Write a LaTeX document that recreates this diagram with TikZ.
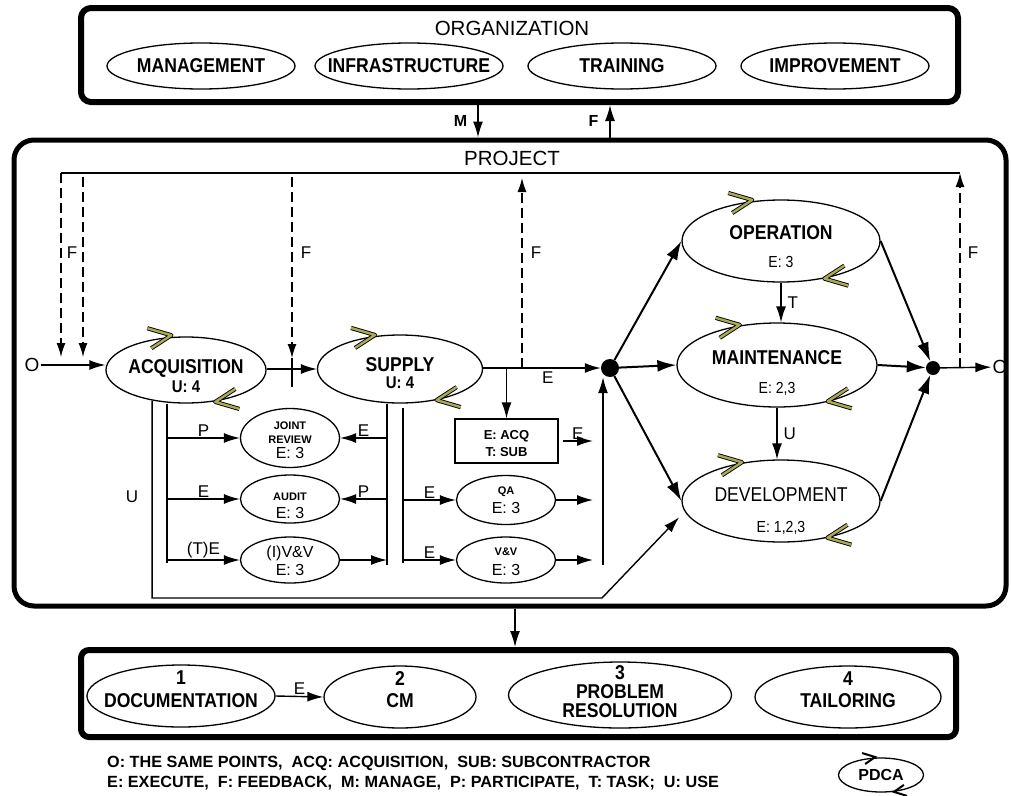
\documentclass[tikz,border=0pt]{standalone}
\usepackage{fontspec}
\setmainfont{Liberation Sans}
\newfontfamily\nrw[FakeStretch=0.88]{Liberation Sans}
\usetikzlibrary{shapes.geometric,arrows.meta}
\definecolor{cycfill}{RGB}{170,170,85}
\tikzstyle{proc} = [ellipse, draw, line width=1.3pt, inner xsep=-30pt,
    inner ysep=-45pt, align=center, text depth=10pt,
    font=\nrw\bfseries\fontsize{20}{22}\selectfont]
\tikzstyle{subproc} = [ellipse, draw, line width=1.3pt, inner xsep=-30pt,
    inner ysep=-45pt, align=center, minimum width=99pt, text depth=10pt,
    font=\fontsize{16}{18}\selectfont]
\tikzstyle{zone} = [rectangle, draw, line width=5pt, rounded corners=12pt]
\tikzstyle{line} = [draw, line width=1.4pt, -{Latex[length=16pt,width=10pt]}]
\tikzstyle{bigline} = [draw, line width=2pt, -{Latex[length=19pt,width=12pt]}]
\tikzstyle{dline} = [draw, line width=1.3pt, dash pattern=on 10pt off 5pt,
    -{Latex[length=14pt,width=9pt]}]
\tikzstyle{wire} = [draw, line width=1.4pt]
\tikzstyle{lab} = [font=\fontsize{17}{17}\selectfont, inner sep=1pt]
\tikzstyle{cyc} = [draw, line width=0.9pt, double=cycfill, double distance=2.4pt,
    line join=round]
\tikzstyle{blob} = [circle, fill, inner sep=0pt]
\newcommand{\sm}{\bfseries\fontsize{11}{12}\selectfont}
\newcommand{\num}{\mdseries\fontsize{16}{16}\selectfont}
\newcommand{\use}{\fontsize{17}{17}\selectfont}
% cycle marks on an ellipse: top one points right, bottom one points left
\newcommand{\pdca}[3]{%
  \draw[cyc] ([shift={(-12,-10)}]#1.#2) -- ([shift={(12,-3)}]#1.#2)
    -- ([shift={(-8,10)}]#1.#2);
  \draw[cyc] ([shift={(12,10)}]#1.#3) -- ([shift={(-12,3)}]#1.#3)
    -- ([shift={(8,-10)}]#1.#3);}

\begin{document}
\begin{tikzpicture}[x=1pt,y=-1pt]
    \useasboundingbox (0,0) rectangle (1011,795);
    % Organization
    \node [zone, line width=6pt, rounded corners=10pt, minimum width=877pt,
      minimum height=94pt] (org) at (519.5,55) {};
    \node [font=\fontsize{20.5}{20}\selectfont] (orgt) at (512,28) {ORGANIZATION};
    \node [proc, text depth=, minimum width=188pt, minimum height=46pt] (mgmt) at (201,66) {MANAGEMENT};
    \node [proc, text depth=, minimum width=188pt, minimum height=46pt] (infra) at (409,66) {INFRASTRUCTURE};
    \node [proc, text depth=, minimum width=188pt, minimum height=46pt] (train) at (622,66) {TRAINING};
    \node [proc, text depth=, minimum width=188pt, minimum height=46pt] (impr) at (835,66) {IMPROVEMENT};

    % Project
    \node [zone, rounded corners=20pt, minimum width=992pt, minimum height=466pt]
      (prj) at (510,373) {};
    \node [font=\fontsize{20.5}{20}\selectfont] (prjt) at (512,158) {PROJECT};

    % Place nodes
    \node [font=\fontsize{19}{19}\selectfont, inner sep=1pt] (oin) at (32,365) {O};
    \node [proc, text height=55.4pt, minimum width=160pt, minimum height=66pt] (acq)
      at (186,370) {ACQUISITION\\[-3pt]\use U: 4};
    \node [proc, text height=49pt, minimum width=165pt, minimum height=68pt] (sup)
      at (400,369) {SUPPLY\\[-5pt]\use U: 4};
    \node [blob, minimum size=18pt] (d1) at (610,368) {};
    \node [proc, text height=63.4pt, minimum width=198pt, minimum height=82pt] (op)
      at (781,241) {OPERATION\\[6pt]\num E: 3};
    \node [proc, text height=67.4pt, minimum width=200pt, minimum height=84pt] (maint)
      at (777,365) {MAINTENANCE\\[7pt]\num E: 2,3};
    \node [proc, text height=73.4pt, minimum width=198pt, minimum height=82pt] (dev)
      at (781,501) {\mdseries DEVELOPMENT\\[9pt]\num E: 1,2,3};
    \node [blob, minimum size=14pt] (d2) at (933,368) {};
    \node [font=\fontsize{19}{19}\selectfont, inner sep=1pt] (oout) at (1000,367) {O};

    \node [subproc, text height=51.4pt, minimum height=59pt] (jr) at (290,438)
      {\sm JOINT\\[-4pt]\sm REVIEW\\[-3pt]E: 3};
    \node [subproc, text height=49.4pt, minimum height=48pt] (audit) at (290,499)
      {\sm AUDIT\\[0pt]E: 3};
    \node [subproc, text height=41.4pt, minimum height=46pt] (ivv) at (290,560)
      {(I)V\&V\\[0pt]E: 3};
    \node [draw, line width=1.3pt, minimum width=103pt, minimum height=44pt,
      inner ysep=-10pt, text depth=10pt, text height=41.4pt, align=center,
      font=\bfseries\fontsize{13}{17}\selectfont] (sub) at (506.5,441)
      {E: ACQ\\T: SUB};
    \node [subproc, text height=37.4pt, minimum height=49pt] (qa) at (506,500)
      {\sm QA\\[1pt]E: 3};
    \node [subproc, text height=41.4pt, minimum height=46pt] (vv) at (506,560)
      {\sm V\&V\\[2pt]E: 3};

    % PDCA marks
    \pdca{acq}{130}{-35}
    \pdca{sup}{140}{-30}
    \pdca{op}{137}{-32}
    \pdca{maint}{143}{-28}
    \pdca{dev}{145}{-30}

    % Draw edges
    \coordinate (mx) at (478,0);
    \coordinate (fx) at (610,0);
    \path [line] (org.south -| mx) -- node [lab, left=9pt,
      font=\bfseries\fontsize{16}{16}\selectfont] (lm) {M} (prj.north -| mx);
    \path [line] (prj.north -| fx) -- node [lab, left=10pt,
      font=\bfseries\fontsize{16}{16}\selectfont] (lf) {F} (org.south -| fx);

    % feedback lines
    \coordinate (tl) at (61,173);
    \coordinate (tr) at (960,173);
    \coordinate (fl1) at (61,357);
    \coordinate (fl2a) at (83,177);
    \coordinate (fl2) at (83,357);
    \coordinate (fa) at (292,177);
    \coordinate (fb) at (292,358);
    \coordinate (fc) at (292,387);
    \coordinate (fu) at (522,368);
    \coordinate (fu2) at (522,178);
    \coordinate (fr) at (960,368);
    \path [wire] (tl) -- (tr);
    \path [dline] (tl) -- (fl1);
    \path [dline] (fl2a) -- (fl2);
    \path [dline] (fa) -- (fb);
    \path [wire] (fb) -- (fc);
    \path [dline] (fu) -- (fu2);
    \path [dline] (fr) -- (tr);
    \node [lab] (lf1) at (72,253) {F};
    \node [lab] (lf2) at (306,253) {F};
    \node [lab] (lf3) at (536,253) {F};
    \node [lab] (lf4) at (973,253) {F};

    % main flow
    \path [line] (oin) -- (oin -| acq.west);
    \path [line] (acq.east |- sup.west) -- (sup.west);
    \path [line] (sup.east |- d1) -- node [lab, below=2pt, pos=0.55] (le1) {E} (d1);
    \path [line] (sub.north |- d1) -- (sub.north);
    \path [bigline] (d1) -- (op.west);
    \path [bigline] (d1) -- (maint.west);
    \path [bigline] (d1) -- (dev.west);
    \path [bigline] (op.east) -- (d2);
    \path [bigline] (maint.east) -- (d2);
    \path [bigline] (dev.east) -- (d2);
    \path [line] (d2) -- (oout);
    \path [line] (op.south) -- node [lab, right=5pt] (lt) {T} (op.south |- maint.north);
    \path [line] (maint.south) -- node [lab, right=5pt] (lu) {U} (maint.south |- dev.north);

    % acquisition side
    \coordinate (ub) at (602,598);
    \coordinate (pa) at (167,563);
    \path [line] (acq.222) |- (ub) -- ([xshift=-10pt]dev.190);
    \node [lab] (lu2) at (132,497) {U};
    \path [wire] (pa |- acq.south) -- (pa);
    \path [line] (jr.west -| pa) -- node [lab, above] (lp1) {P} (jr.west);
    \path [line] (audit.west -| pa) -- node [lab, above] (le2) {E} (audit.west);
    \path [line] (ivv.west -| pa) -- node [lab, above] (lte) {(T)E} (ivv.west);

    % supply side
    \coordinate (sa) at (387,565);
    \coordinate (sb0) at (403,408);
    \coordinate (sb) at (403,563);
    \coordinate (qe) at (593,0);
    \coordinate (r0) at (603,565);
    \path [wire] (sa |- sup.south) -- (sa);
    \path [wire] (sb0) -- (sb);
    \path [line] (jr.east -| sa) -- node [lab, above] (le3) {E} (jr.east);
    \path [line] (audit.east -| sa) -- node [lab, above] (lp2) {P} (audit.east);
    \path [line] (ivv.east) -- (ivv.east -| sa);
    \path [line] (qa.west -| sb) -- node [lab, above] (le4) {E} (qa.west);
    \path [line] (vv.west -| sb) -- node [lab, above] (le5) {E} (vv.west);
    \path [line] ([xshift=4pt]sub.east) -- node [lab, above] (le6) {E} (sub.east -| qe);
    \path [line] (qa.east) -- (qa.east -| qe);
    \path [line] (vv.east) -- (vv.east -| qe);
    \path [line] (r0) -- (r0 |- d1.south);

    % Support processes
    \node [zone, line width=6pt, rounded corners=8pt, minimum width=875pt,
      minimum height=87pt] (bot) at (518.5,693.5) {};
    \coordinate (bx) at (515,0);
    \path [line] (prj.south -| bx) -- (bot.north -| bx);
    \node [proc, text height=32pt, minimum width=188pt, minimum height=62pt] (doc)
      at (181,696) {1\\[1pt]DOCUMENTATION};
    \node [proc, text height=30pt, minimum width=152pt, minimum height=62pt] (cm)
      at (400,697) {2\\[0pt]CM};
    \node [proc, text height=54pt, minimum width=223pt, minimum height=66pt] (prob)
      at (620,695) {3\\[-3pt]PROBLEM\\[-3pt]RESOLUTION};
    \node [proc, text height=30pt, minimum width=186pt, minimum height=62pt] (tail)
      at (848,697) {4\\[0pt]TAILORING};
    \path [line] (doc.east) -- node [lab, above] (le7) {E} (cm.west);

    % Legend
    \node [anchor=west, align=left, inner sep=0pt,
      font=\bfseries\fontsize{16.2}{20}\selectfont] (key) at (107,773)
      {O: THE SAME POINTS,\ \ ACQ: ACQUISITION,\ \ SUB: SUBCONTRACTOR\\
       E: EXECUTE,\ \ F: FEEDBACK,\ \ M: MANAGE,\ \ P: PARTICIPATE,\ \ T: TASK;\ \ U: USE};
    \node [proc, text depth=, minimum width=85pt, minimum height=34pt,
      font=\bfseries\fontsize{16}{16}\selectfont] (pdca) at (881,775) {PDCA};
    \draw [line width=2pt] ([shift={(-7,-5)}]pdca.125) -- ([shift={(6,-1)}]pdca.125)
      -- ([shift={(-4,6)}]pdca.125);
    \draw [line width=2pt] ([shift={(7,5)}]pdca.-40) -- ([shift={(-6,1)}]pdca.-40)
      -- ([shift={(4,-6)}]pdca.-40);
\end{tikzpicture}
\end{document}
